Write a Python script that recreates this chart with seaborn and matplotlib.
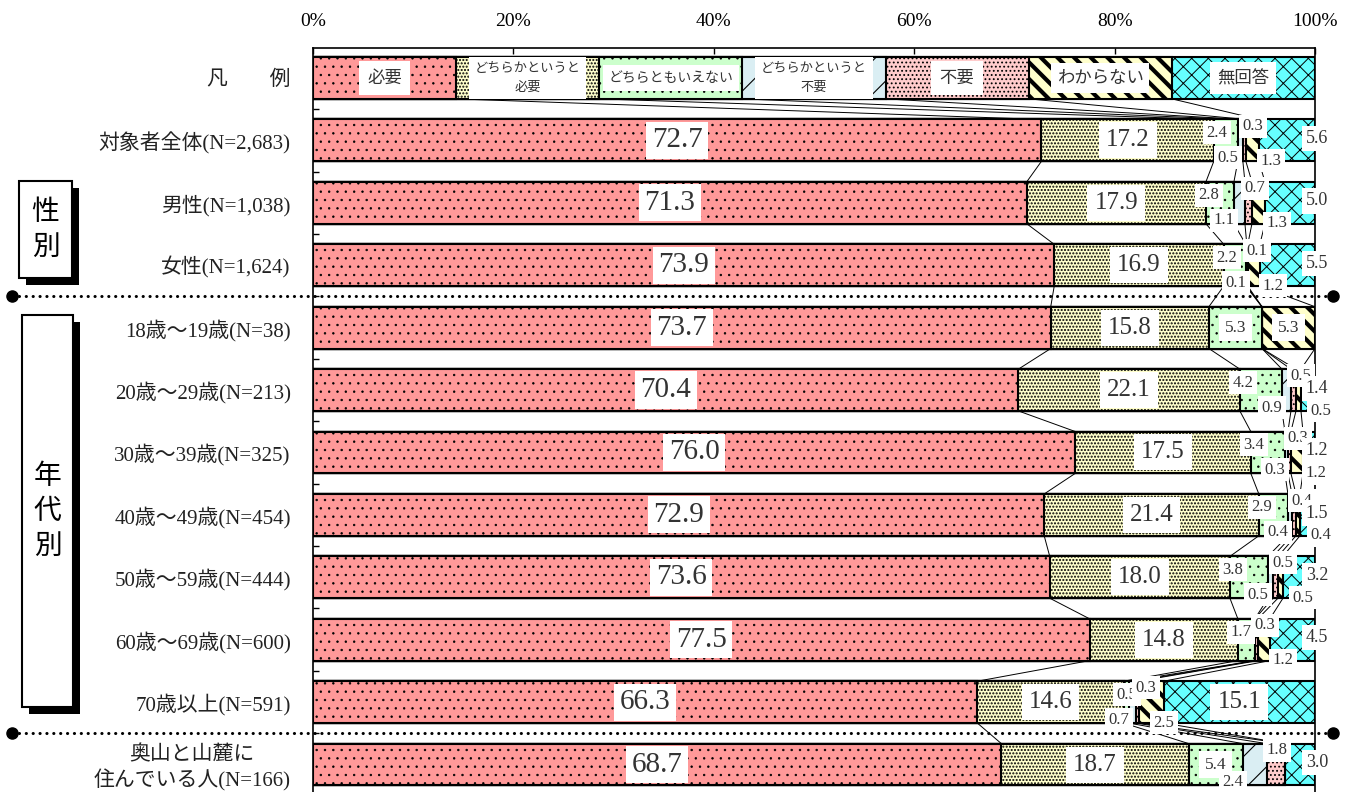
import numpy as np
import pandas as pd
import seaborn as sns
import matplotlib.pyplot as plt
from matplotlib.patches import Rectangle
from matplotlib.transforms import blended_transform_factory

# ---- data ----
rows = ["凡　　例", "対象者全体(N=2,683)", "男性(N=1,038)", "女性(N=1,624)",
        "18歳～19歳(N=38)", "20歳～29歳(N=213)", "30歳～39歳(N=325)",
        "40歳～49歳(N=454)", "50歳～59歳(N=444)", "60歳～69歳(N=600)",
        "70歳以上(N=591)", "奥山と山麓に\n住んでいる人(N=166)"]
answers = ["必要", "どちらかというと必要", "どちらともいえない",
           "どちらかというと不要", "不要", "わからない", "無回答"]
legend_names = ["必要", "どちらかというと\n必要", "どちらともいえない",
                "どちらかというと\n不要", "不要", "わからない", "無回答"]

hitsuyou   = [72.7, 71.3, 73.9, 73.7, 70.4, 76.0, 72.9, 73.6, 77.5, 66.3, 68.7]
yaya_hitsu = [17.2, 17.9, 16.9, 15.8, 22.1, 17.5, 21.4, 18.0, 14.8, 14.6, 18.7]
dochiramo  = [2.4, 2.8, 2.2, 5.3, 4.2, 3.4, 2.9, 3.8, 1.7, 0.5, 5.4]
yaya_fuyou = [0.5, 1.1, 0.1, 0.0, 0.9, 0.3, 0.4, 0.5, 0.0, 0.7, 2.4]
fuyou      = [0.3, 0.7, 0.1, 0.0, 0.5, 0.3, 0.4, 0.5, 0.3, 0.3, 1.8]
wakaranai  = [1.3, 1.3, 1.2, 5.3, 0.5, 1.2, 0.4, 0.5, 1.2, 2.5, 0.0]
mukaitou   = [5.6, 5.0, 5.5, 0.0, 1.4, 1.2, 1.5, 3.2, 4.5, 15.1, 3.0]
legend_share = [1, 1, 1, 1, 1, 1, 1]

colors = ["#FF9999", "#FFFFCC", "#CCFFCC", "#DAEEF3", "#FFCCCC", "#FFFFCC", "#66FFFF"]
hatches = ["..", ".....", "..", "/", "....", "\\\\", "xx"]
hatch_lw = [0.5, 1.0, 0.5, 0.8, 0.8, 3.0, 0.7]

vals = pd.DataFrame([hitsuyou, yaya_hitsu, dochiramo, yaya_fuyou, fuyou, wakaranai, mukaitou],
                    index=answers, columns=rows[1:]).T
table = pd.concat([pd.DataFrame([legend_share], index=[rows[0]], columns=answers), vals])
share = table.div(table.sum(axis=1), axis=0) * 100
cum = share.cumsum(axis=1)
start = cum - share

sns.set_theme(style="white")
plt.rcParams["font.family"] = ["Liberation Serif", "Noto Sans CJK JP"]
plt.rcParams["hatch.linewidth"] = 0.8
JP = ["Noto Sans CJK JP", "DejaVu Sans"]
MIX = ["Liberation Serif", "Noto Sans CJK JP"]

W, H = 1357, 792
fig = plt.figure(figsize=(W / 100, H / 100), dpi=100)
ax = fig.add_axes([313 / W, 0, 1002 / W, 744 / H])

bar_h = 0.67
# stacked bars: draw cumulative totals from the widest to the narrowest
for k in range(6, -1, -1):
    d = pd.DataFrame({"row": rows, "end": cum.iloc[:, k].values})
    sns.barplot(data=d, x="end", y="row", order=rows, orient="h", color=colors[k],
                saturation=1, width=bar_h, edgecolor="black", linewidth=1.5,
                hatch=hatches[k], errorbar=None, ax=ax)
    for p in ax.containers[-1]:
        if hasattr(p, "set_hatch_linewidth"):
            p.set_hatch_linewidth(hatch_lw[k])

# series lines between neighbouring bars
for i in range(len(rows) - 1):
    for k in range(6):
        ax.plot([cum.iloc[i, k], cum.iloc[i + 1, k]], [i + bar_h / 2, i + 1 - bar_h / 2],
                color="black", lw=0.7, zorder=0.5, solid_capstyle="butt")

# legend row labels
leg_fs = [12.5, 9.5, 10, 9.5, 12.5, 12.5, 12.5]
leg_pad = [6, 4, 4, 4, 6, 4, 5]
for k in range(7):
    cx = start.iloc[0, k] + share.iloc[0, k] / 2
    ax.text(cx, 0, legend_names[k], ha="center", va="center", fontsize=leg_fs[k],
            family=JP, color="#333333", linespacing=1.5, zorder=6,
            bbox=dict(facecolor="white", edgecolor="none", pad=leg_pad[k]))

# value labels
small_pos = {2: (0.3, -0.12), 3: (-1.0, 0.28), 4: (1.0, -0.23), 5: (2.5, 0.33)}
for i in range(1, len(rows)):
    for k in range(7):
        v = table.iloc[i, k]
        if v <= 0:
            continue
        s = start.iloc[i, k]
        w = share.iloc[i, k]
        if v >= 50:
            x, y, fs, pad = s + w / 2, i, 21, 4
        elif v >= 10:
            x, y, fs, pad = s + w / 2, i, 18, 5
        elif k == 6:
            x, y, fs, pad = 100.2, i - 0.03, 13, 3
        elif v >= 5:
            x, y, fs, pad = s + w / 2, i, 12.5, 4
        else:
            dx, dy = small_pos[k]
            x, y, fs, pad = s + dx, i + dy, 12, 2.5
            if k >= 3:
                edge = i + bar_h / 2 if dy > 0 else i - bar_h / 2
                ax.plot([s + w / 2, x], [edge, y], color="black", lw=0.6, zorder=4,
                        clip_on=False)
        ax.text(x, y, f"{v:.1f}", ha="center", va="center", fontsize=fs,
                family="Liberation Serif", color="#333333", zorder=6,
                bbox=dict(facecolor="white", edgecolor="none", pad=pad))

# axes styling
ax.set_xlim(0, 100)
ax.set_ylim(11.44, -0.48)
ax.set_xlabel("")
ax.set_ylabel("")
ax.xaxis.tick_top()
ax.set_xticks(np.arange(0, 101, 20))
ax.set_xticklabels([f"{t}%" for t in range(0, 101, 20)], fontsize=14, family="Liberation Serif")
ax.tick_params(axis="x", which="major", direction="in", length=4.5, width=1, pad=13,
               top=True, bottom=False, colors="black")
ax.set_yticks(range(len(rows)))
ax.set_yticklabels(rows, fontsize=15, family=MIX, color="#222222")
for lab in ax.get_yticklabels():
    lab.set_multialignment("center")
ax.set_yticks(np.arange(0.5, len(rows) - 1, 1), minor=True)
ax.tick_params(axis="y", which="major", length=0, pad=16)
ax.tick_params(axis="y", which="minor", direction="in", length=4, width=1, left=True,
               color="black")
for side in ["top", "left", "right"]:
    ax.spines[side].set_visible(True)
    ax.spines[side].set_color("black")
    ax.spines[side].set_linewidth(1.2)
ax.spines["bottom"].set_visible(False)

# dotted group separators
tr = blended_transform_factory(fig.transFigure, ax.transData)
for yb in [3.5, 10.5]:
    ax.plot([12 / W, 1333 / W], [yb, yb], transform=tr, clip_on=False, color="black",
            lw=2.2, linestyle=(0, (0.05, 2.2)), dash_capstyle="round", zorder=5)
    ax.plot([12 / W, 1333 / W], [yb, yb], transform=tr, clip_on=False, color="black",
            lw=0, marker="o", markersize=8, zorder=5)

# group boxes with shadow
def group_box(x0, y0, x1, y1, text):
    fig.add_artist(Rectangle(((x0 + 7) / W, 1 - (y1 + 7) / H), (x1 - x0) / W, (y1 - y0) / H,
                             transform=fig.transFigure, facecolor="black", edgecolor="none"))
    fig.add_artist(Rectangle((x0 / W, 1 - y1 / H), (x1 - x0) / W, (y1 - y0) / H,
                             transform=fig.transFigure, facecolor="white", edgecolor="black",
                             linewidth=1.5))
    fig.text((x0 + x1) / 2 / W, 1 - (y0 + y1) / 2 / H, "\n".join(text), ha="center",
             va="center", fontsize=20, family=JP, color="black", linespacing=1.2)

group_box(19, 181, 72, 278, "性別")
group_box(22, 315, 73, 707, "年代別")

fig.savefig("out.png", dpi=100)
